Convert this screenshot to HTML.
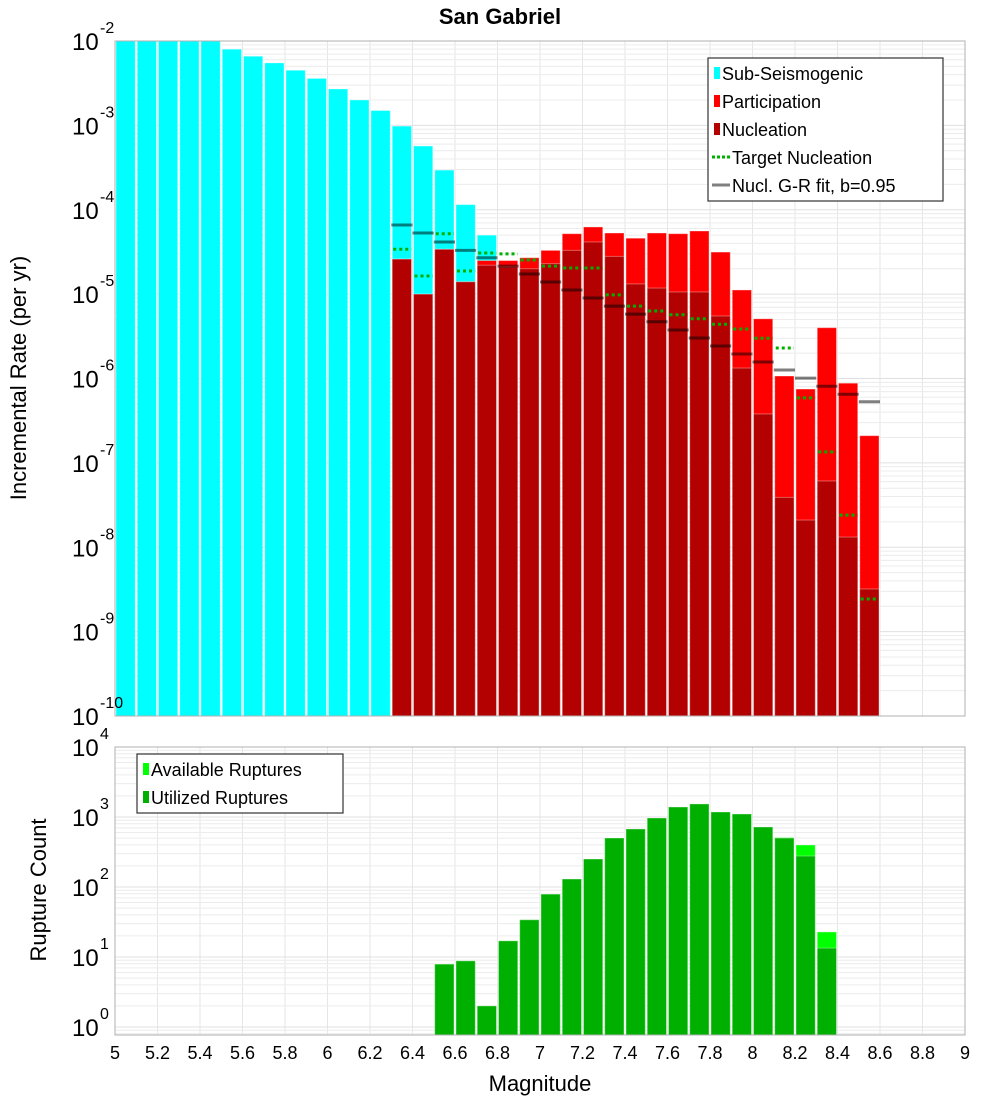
<!DOCTYPE html>
<html><head><meta charset="utf-8"><style>
body{margin:0;background:#fff}
svg{display:block;font-family:"Liberation Sans","DejaVu Sans",sans-serif}
</style></head><body>
<svg id="c" width="1000" height="1100" xmlns="http://www.w3.org/2000/svg">
<text x="500" y="24" text-anchor="middle" font-size="22" font-weight="bold">San Gabriel</text>
<text transform="translate(26,378) rotate(-90)" text-anchor="middle" font-size="22">Incremental Rate (per yr)</text>
<text transform="translate(46,890) rotate(-90)" text-anchor="middle" font-size="22">Rupture Count</text>
<text x="540" y="1091" text-anchor="middle" font-size="22">Magnitude</text>
<g id="gtop"></g><g id="gbot"></g><g id="xt"></g>
</svg>
<script>
const subMags=[5.05,5.15,5.25,5.35,5.45,5.55,5.65,5.75,5.85,5.95,6.05,6.15,6.25,6.35,6.45,6.55,6.65,6.75];
const subRates=[1e-2,1e-2,1e-2,1e-2,1e-2,8.0e-3,6.6e-3,5.5e-3,4.5e-3,3.6e-3,2.7e-3,2.0e-3,1.5e-3,9.8e-4,5.7e-4,2.95e-4,1.15e-4,5.0e-5];
const supMags=[6.35,6.45,6.55,6.65,6.75,6.85,6.95,7.05,7.15,7.25,7.35,7.45,7.55,7.65,7.75,7.85,7.95,8.05,8.15,8.25,8.35,8.45,8.55];
const partRates=[2.6e-5,1.0e-5,3.4e-5,1.4e-5,2.5e-5,2.5e-5,2.7e-5,3.3e-5,5.2e-5,6.25e-5,5.3e-5,4.6e-5,5.3e-5,5.2e-5,5.6e-5,3.15e-5,1.12e-5,5.1e-6,1.07e-6,7.5e-7,4.0e-6,8.8e-7,2.1e-7];
const nuclRates=[2.6e-5,1.0e-5,3.4e-5,1.4e-5,2.2e-5,2.1e-5,2.0e-5,2.3e-5,3.3e-5,4.15e-5,2.8e-5,1.32e-5,1.18e-5,1.06e-5,1.06e-5,5.5e-6,1.33e-6,3.8e-7,3.9e-8,2.1e-8,6.1e-8,1.32e-8,3.2e-9];
const grRates=[6.6e-5,5.3e-5,4.15e-5,3.3e-5,2.7e-5,2.15e-5,1.73e-5,1.39e-5,1.12e-5,9.0e-6,7.2e-6,5.8e-6,4.7e-6,3.76e-6,3.02e-6,2.43e-6,1.95e-6,1.57e-6,1.26e-6,1.01e-6,8.1e-7,6.5e-7,5.3e-7];
const targetRates=[3.4e-5,1.64e-5,5.2e-5,1.88e-5,3.07e-5,3.0e-5,2.54e-5,2.15e-5,2.04e-5,2.04e-5,9.8e-6,7.2e-6,6.3e-6,5.7e-6,5.1e-6,4.4e-6,3.86e-6,3.0e-6,2.3e-6,5.9e-7,1.35e-7,2.4e-8,2.44e-9];
const rupMags=[6.55,6.65,6.75,6.85,6.95,7.05,7.15,7.25,7.35,7.45,7.55,7.65,7.75,7.85,7.95,8.05,8.15,8.25,8.35];
const availCounts=[7.9,8.8,2,17,34,79,130,251,501,674,967,1389,1535,1179,1104,720,510,398,22.8];
const usedCounts=[7.9,8.8,2,17,34,79,130,251,501,674,967,1389,1535,1179,1104,720,500,277,13.4];
const xTicks=[5,5.2,5.4,5.6,5.8,6,6.2,6.4,6.6,6.8,7,7.2,7.4,7.6,7.8,8,8.2,8.4,8.6,8.8,9];
const topExps=[-2,-3,-4,-5,-6,-7,-8,-9,-10];
const botExps=[4,3,2,1,0];

const NS='http://www.w3.org/2000/svg';
const BW=0.1;
const L=115,R=965;
const X=m=>L+(m-5)/4*(R-L);
const TT=41,TB=716;
const YT=v=>TT+(-2-Math.log10(v))/8*(TB-TT);
const BT=747,BB=1035;
const YB=v=>BT+(4-Math.log10(v))*70;
function el(p,t,a){const e=document.createElementNS(NS,t);for(const k in a)e.setAttribute(k,a[k]);p.appendChild(e);return e;}
const gTop=document.getElementById('gtop'),gBot=document.getElementById('gbot'),xt=document.getElementById('xt');

function grid(g,y0,y1,yf,e0,e1){
  for(const m of xTicks){const l=el(g,'line',{x1:X(m),x2:X(m),y1:y0,y2:y1,stroke:'#e6e6e6'});
  
  }
  for(let e=e0;e<e1;e++)for(let k=1;k<10;k++){const y=yf(k*Math.pow(10,e));if(y<y0||y>y1)continue;
    const l=el(g,'line',{x1:L,x2:R,y1:y,y2:y,stroke:k==1?'#e0e0e0':'#ececec'});
    
    }
}
grid(gTop,TT,TB,YT,-10,-1);
grid(gBot,BT,BB,YB,-1,4);

function bar(g,m,v,fill,yf,yb,name){
  const x=X(m-BW/2)+1,w=X(m+BW/2)-X(m-BW/2)-2;let y=yf(v);if(y<TT&&g===gTop)y=TT;
  const r=el(g,'rect',{x:x,y:y,width:w,height:yb-y,fill:fill,stroke:'rgba(255,255,255,0.35)','stroke-width':1});
  
  
}
subMags.forEach((m,i)=>bar(gTop,m,subRates[i],'#00ffff',YT,TB,'sub-seismogenic-bar'));
supMags.forEach((m,i)=>bar(gTop,m,partRates[i],'#ff0000',YT,TB,'participation-bar'));
supMags.forEach((m,i)=>bar(gTop,m,nuclRates[i],'#b30000',YT,TB,'nucleation-bar'));
supMags.forEach((m,i)=>{const y=YT(grRates[i]);
  const l=el(gTop,'line',{x1:X(m-BW/2),x2:X(m+BW/2),y1:y,y2:y,stroke:'rgba(0,0,0,0.5)','stroke-width':3});
  
  });
supMags.forEach((m,i)=>{const y=YT(targetRates[i]);
  const l=el(gTop,'line',{x1:X(m-BW/2)+2,x2:X(m+BW/2)-1,y1:y,y2:y,stroke:'#00b000','stroke-width':3,'stroke-dasharray':'3,3'});
  
  });
rupMags.forEach((m,i)=>bar(gBot,m,availCounts[i],'#00ff00',YB,BB,'available-ruptures-bar'));
rupMags.forEach((m,i)=>bar(gBot,m,usedCounts[i],'#00b000',YB,BB,'utilized-ruptures-bar'));

let f=el(gTop,'rect',{x:L,y:TT,width:R-L,height:TB-TT,fill:'none',stroke:'#b0b0b0'});


f=el(gBot,'rect',{x:L,y:BT,width:R-L,height:BB-BT,fill:'none',stroke:'#b0b0b0'});



function ylab(g,e,y){
  const t=el(g,'text',{x:72,y:y+9,'font-size':24});t.textContent='10';
  
  
  const s=el(g,'text',{x:100,y:y-8,'font-size':16});s.textContent=String(e);
  
  
}
topExps.forEach(e=>ylab(gTop,e,YT(Math.pow(10,e))));
botExps.forEach(e=>ylab(gBot,e,YB(Math.pow(10,e))));
xTicks.forEach(m=>{const t=el(xt,'text',{x:X(m),y:1059,'text-anchor':'middle','font-size':18});
  t.textContent=String(m);
  
  });

function legend(g,x,y,w,h,items,name){
  const lg=el(g,'g',{});
  
  
  el(lg,'rect',{x:x,y:y,width:w,height:h,fill:'#fff',stroke:'#333','stroke-width':1.2});
  items.forEach((it,i)=>{const cy=y+15+i*28;
    if(it.t=='sq')el(lg,'rect',{x:x+6,y:cy-6,width:6,height:12,fill:it.c});
    else el(lg,'line',{x1:x+4,x2:x+22,y1:cy,y2:cy,stroke:it.c,'stroke-width':3,'stroke-dasharray':it.t=='dot'?'3,2':'none'});
    const t=el(lg,'text',{x:x+(it.t=='sq'?14:24),y:cy+7,'font-size':18});t.textContent=it.l;
    
    });
}
legend(gTop,708,58,235,143,[{t:'sq',c:'#00ffff',l:'Sub-Seismogenic'},{t:'sq',c:'#ff0000',l:'Participation'},{t:'sq',c:'#b30000',l:'Nucleation'},{t:'dot',c:'#00b000',l:'Target Nucleation'},{t:'ln',c:'#808080',l:'Nucl. G-R fit, b=0.95'}],'top-legend');
legend(gBot,137,754,206,59,[{t:'sq',c:'#00ff00',l:'Available Ruptures'},{t:'sq',c:'#00b000',l:'Utilized Ruptures'}],'bottom-legend');
</script>
</body></html>
